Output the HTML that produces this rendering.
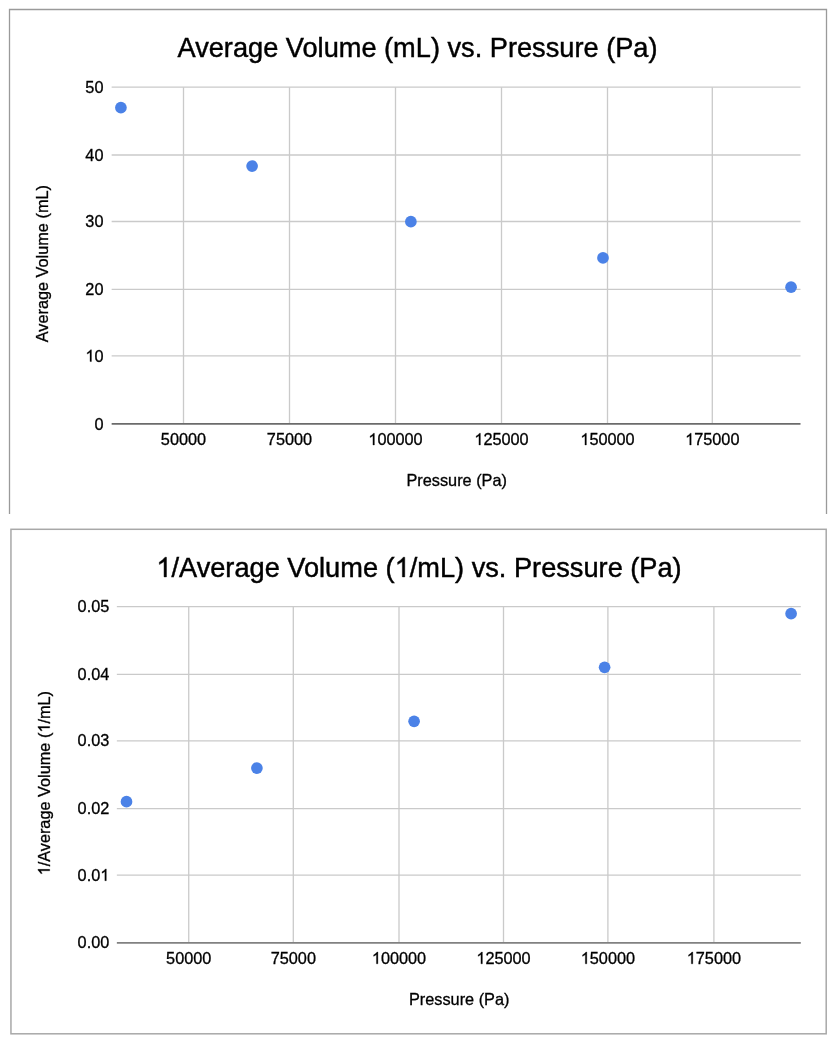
<!DOCTYPE html>
<html><head><meta charset="utf-8"><style>
html,body{margin:0;padding:0;background:#fff;}
svg{display:block;will-change:transform;font-family:"Liberation Sans",sans-serif;}
.l{font-size:16.3px;fill:#000;stroke:#000;stroke-width:0.3px;}
.t{font-size:27.2px;fill:#000;stroke:#000;stroke-width:0.45px;}
.h{fill-opacity:0;stroke-opacity:0;}
</style></head><body>
<svg width="836" height="1040" viewBox="0 0 836 1040">
<rect x="0" y="0" width="836" height="1040" fill="#fff"/>
<path d="M9.5 514 L9.5 9.5 L826.5 9.5 L826.5 514" fill="none" stroke="#9a9a9a" stroke-width="1.3"/>
<line x1="111.65" y1="87.2" x2="800.5" y2="87.2" stroke="#cacaca" stroke-width="1.3"/>
<line x1="111.65" y1="155.0" x2="800.5" y2="155.0" stroke="#cacaca" stroke-width="1.3"/>
<line x1="111.65" y1="221.5" x2="800.5" y2="221.5" stroke="#cacaca" stroke-width="1.3"/>
<line x1="111.65" y1="289.45" x2="800.5" y2="289.45" stroke="#cacaca" stroke-width="1.3"/>
<line x1="111.65" y1="355.86" x2="800.5" y2="355.86" stroke="#cacaca" stroke-width="1.3"/>
<line x1="183.5" y1="87.2" x2="183.5" y2="423.86" stroke="#cacaca" stroke-width="1.3"/>
<line x1="289.5" y1="87.2" x2="289.5" y2="423.86" stroke="#cacaca" stroke-width="1.3"/>
<line x1="395.5" y1="87.2" x2="395.5" y2="423.86" stroke="#cacaca" stroke-width="1.3"/>
<line x1="501.5" y1="87.2" x2="501.5" y2="423.86" stroke="#cacaca" stroke-width="1.3"/>
<line x1="607.5" y1="87.2" x2="607.5" y2="423.86" stroke="#cacaca" stroke-width="1.3"/>
<line x1="712.3" y1="87.2" x2="712.3" y2="423.86" stroke="#cacaca" stroke-width="1.3"/>
<line x1="111.65" y1="423.86" x2="800.5" y2="423.86" stroke="#6b6b6b" stroke-width="1.8"/>
<circle cx="120.9" cy="107.7" r="5.85" fill="#4b82e7"/>
<circle cx="252.1" cy="166.1" r="5.85" fill="#4b82e7"/>
<circle cx="410.87" cy="221.7" r="5.85" fill="#4b82e7"/>
<circle cx="603" cy="257.9" r="5.85" fill="#4b82e7"/>
<circle cx="791.05" cy="287.2" r="5.85" fill="#4b82e7"/>
<rect x="10.95" y="529.3" width="815.25" height="504.50" fill="none" stroke="#a8a8a8" stroke-width="1.5"/>
<line x1="116.85" y1="606.57" x2="800.8" y2="606.57" stroke="#cacaca" stroke-width="1.3"/>
<line x1="116.85" y1="674.4" x2="800.8" y2="674.4" stroke="#cacaca" stroke-width="1.3"/>
<line x1="116.85" y1="740.93" x2="800.8" y2="740.93" stroke="#cacaca" stroke-width="1.3"/>
<line x1="116.85" y1="808.7" x2="800.8" y2="808.7" stroke="#cacaca" stroke-width="1.3"/>
<line x1="116.85" y1="875.2" x2="800.8" y2="875.2" stroke="#cacaca" stroke-width="1.3"/>
<line x1="188.73" y1="606.57" x2="188.73" y2="942.95" stroke="#cacaca" stroke-width="1.3"/>
<line x1="293.3" y1="606.57" x2="293.3" y2="942.95" stroke="#cacaca" stroke-width="1.3"/>
<line x1="399.0" y1="606.57" x2="399.0" y2="942.95" stroke="#cacaca" stroke-width="1.3"/>
<line x1="503.5" y1="606.57" x2="503.5" y2="942.95" stroke="#cacaca" stroke-width="1.3"/>
<line x1="607.9" y1="606.57" x2="607.9" y2="942.95" stroke="#cacaca" stroke-width="1.3"/>
<line x1="713.9" y1="606.57" x2="713.9" y2="942.95" stroke="#cacaca" stroke-width="1.3"/>
<line x1="116.85" y1="942.95" x2="800.8" y2="942.95" stroke="#818181" stroke-width="1.8"/>
<circle cx="126.5" cy="801.7" r="5.85" fill="#4b82e7"/>
<circle cx="256.9" cy="768.1" r="5.85" fill="#4b82e7"/>
<circle cx="414.1" cy="721.3" r="5.85" fill="#4b82e7"/>
<circle cx="604.6" cy="667.3" r="5.85" fill="#4b82e7"/>
<circle cx="791.1" cy="613.7" r="5.85" fill="#4b82e7"/>
<g transform="translate(103.5 92.9) scale(1 1.05)"><text id="t0" x="0" y="0" text-anchor="end" class="l">50</text></g>
<g transform="translate(103.5 160.7) scale(1 1.05)"><text id="t1" x="0" y="0" text-anchor="end" class="l">40</text></g>
<g transform="translate(103.5 227.2) scale(1 1.05)"><text id="t2" x="0" y="0" text-anchor="end" class="l">30</text></g>
<g transform="translate(103.5 295.15) scale(1 1.05)"><text id="t3" x="0" y="0" text-anchor="end" class="l">20</text></g>
<g transform="translate(103.5 361.56) scale(1 1.05)"><text id="t4" x="0" y="0" text-anchor="end" class="l"><tspan class="h">1</tspan>0</text><path d="M-12.06 0.00 L-13.49 0.00 L-13.49 -8.77 C-14.01 -8.30 -15.65 -7.37 -16.30 -7.13 L-16.30 -8.46 C-15.15 -8.98 -13.31 -10.59 -12.95 -11.21 L-12.06 -11.21 Z" fill="#000" stroke="#000" stroke-width="0.3" stroke-linejoin="round"/></g>
<g transform="translate(103.5 429.56) scale(1 1.05)"><text id="t5" x="0" y="0" text-anchor="end" class="l">0</text></g>
<g transform="translate(183.5 445.0) scale(1 1.05)"><text id="t6" x="0" y="0" text-anchor="middle" class="l">50000</text></g>
<g transform="translate(289.5 445.0) scale(1 1.05)"><text id="t7" x="0" y="0" text-anchor="middle" class="l">75000</text></g>
<g transform="translate(395.5 445.0) scale(1 1.05)"><text id="t8" x="0" y="0" text-anchor="middle" class="l"><tspan class="h">1</tspan>00000</text><path d="M-21.11 0.00 L-22.55 0.00 L-22.55 -8.77 C-23.06 -8.30 -24.70 -7.37 -25.36 -7.13 L-25.36 -8.46 C-24.20 -8.98 -22.36 -10.59 -22.00 -11.21 L-21.11 -11.21 Z" fill="#000" stroke="#000" stroke-width="0.3" stroke-linejoin="round"/></g>
<g transform="translate(501.5 445.0) scale(1 1.05)"><text id="t9" x="0" y="0" text-anchor="middle" class="l"><tspan class="h">1</tspan>25000</text><path d="M-21.11 0.00 L-22.55 0.00 L-22.55 -8.77 C-23.06 -8.30 -24.70 -7.37 -25.36 -7.13 L-25.36 -8.46 C-24.20 -8.98 -22.36 -10.59 -22.00 -11.21 L-21.11 -11.21 Z" fill="#000" stroke="#000" stroke-width="0.3" stroke-linejoin="round"/></g>
<g transform="translate(607.5 445.0) scale(1 1.05)"><text id="t10" x="0" y="0" text-anchor="middle" class="l"><tspan class="h">1</tspan>50000</text><path d="M-21.11 0.00 L-22.55 0.00 L-22.55 -8.77 C-23.06 -8.30 -24.70 -7.37 -25.36 -7.13 L-25.36 -8.46 C-24.20 -8.98 -22.36 -10.59 -22.00 -11.21 L-21.11 -11.21 Z" fill="#000" stroke="#000" stroke-width="0.3" stroke-linejoin="round"/></g>
<g transform="translate(712.3 445.0) scale(1 1.05)"><text id="t11" x="0" y="0" text-anchor="middle" class="l"><tspan class="h">1</tspan>75000</text><path d="M-21.11 0.00 L-22.55 0.00 L-22.55 -8.77 C-23.06 -8.30 -24.70 -7.37 -25.36 -7.13 L-25.36 -8.46 C-24.20 -8.98 -22.36 -10.59 -22.00 -11.21 L-21.11 -11.21 Z" fill="#000" stroke="#000" stroke-width="0.3" stroke-linejoin="round"/></g>
<g transform="translate(417.5 57.2) scale(1 1.05)"><text id="t12" x="0" y="0" text-anchor="middle" class="t">Average Volume (mL) vs. Pressure (Pa)</text></g>
<g transform="translate(456.7 485.8) scale(1 1.05)"><text id="t13" x="0" y="0" text-anchor="middle" class="l">Pressure (Pa)</text></g>
<g transform="translate(48.1 263.7) rotate(-90) scale(1 1.05)"><text id="t14" x="0" y="0" text-anchor="middle" class="l">Average Volume (mL)</text></g>
<g transform="translate(109.3 612.07) scale(1 1.05)"><text id="t15" x="0" y="0" text-anchor="end" class="l">0.05</text></g>
<g transform="translate(109.3 679.9) scale(1 1.05)"><text id="t16" x="0" y="0" text-anchor="end" class="l">0.04</text></g>
<g transform="translate(109.3 746.43) scale(1 1.05)"><text id="t17" x="0" y="0" text-anchor="end" class="l">0.03</text></g>
<g transform="translate(109.3 814.2) scale(1 1.05)"><text id="t18" x="0" y="0" text-anchor="end" class="l">0.02</text></g>
<g transform="translate(109.3 880.7) scale(1 1.05)"><text id="t19" x="0" y="0" text-anchor="end" class="l">0.0<tspan class="h">1</tspan></text><path d="M-2.99 0.00 L-4.43 0.00 L-4.43 -8.77 C-4.94 -8.30 -6.58 -7.37 -7.24 -7.13 L-7.24 -8.46 C-6.08 -8.98 -4.24 -10.59 -3.88 -11.21 L-2.99 -11.21 Z" fill="#000" stroke="#000" stroke-width="0.3" stroke-linejoin="round"/></g>
<g transform="translate(109.3 948.45) scale(1 1.05)"><text id="t20" x="0" y="0" text-anchor="end" class="l">0.00</text></g>
<g transform="translate(188.73 963.8) scale(1 1.05)"><text id="t21" x="0" y="0" text-anchor="middle" class="l">50000</text></g>
<g transform="translate(293.3 963.8) scale(1 1.05)"><text id="t22" x="0" y="0" text-anchor="middle" class="l">75000</text></g>
<g transform="translate(399.0 963.8) scale(1 1.05)"><text id="t23" x="0" y="0" text-anchor="middle" class="l"><tspan class="h">1</tspan>00000</text><path d="M-21.11 0.00 L-22.55 0.00 L-22.55 -8.77 C-23.06 -8.30 -24.70 -7.37 -25.36 -7.13 L-25.36 -8.46 C-24.20 -8.98 -22.36 -10.59 -22.00 -11.21 L-21.11 -11.21 Z" fill="#000" stroke="#000" stroke-width="0.3" stroke-linejoin="round"/></g>
<g transform="translate(503.5 963.8) scale(1 1.05)"><text id="t24" x="0" y="0" text-anchor="middle" class="l"><tspan class="h">1</tspan>25000</text><path d="M-21.11 0.00 L-22.55 0.00 L-22.55 -8.77 C-23.06 -8.30 -24.70 -7.37 -25.36 -7.13 L-25.36 -8.46 C-24.20 -8.98 -22.36 -10.59 -22.00 -11.21 L-21.11 -11.21 Z" fill="#000" stroke="#000" stroke-width="0.3" stroke-linejoin="round"/></g>
<g transform="translate(607.9 963.8) scale(1 1.05)"><text id="t25" x="0" y="0" text-anchor="middle" class="l"><tspan class="h">1</tspan>50000</text><path d="M-21.11 0.00 L-22.55 0.00 L-22.55 -8.77 C-23.06 -8.30 -24.70 -7.37 -25.36 -7.13 L-25.36 -8.46 C-24.20 -8.98 -22.36 -10.59 -22.00 -11.21 L-21.11 -11.21 Z" fill="#000" stroke="#000" stroke-width="0.3" stroke-linejoin="round"/></g>
<g transform="translate(713.9 963.8) scale(1 1.05)"><text id="t26" x="0" y="0" text-anchor="middle" class="l"><tspan class="h">1</tspan>75000</text><path d="M-21.11 0.00 L-22.55 0.00 L-22.55 -8.77 C-23.06 -8.30 -24.70 -7.37 -25.36 -7.13 L-25.36 -8.46 C-24.20 -8.98 -22.36 -10.59 -22.00 -11.21 L-21.11 -11.21 Z" fill="#000" stroke="#000" stroke-width="0.3" stroke-linejoin="round"/></g>
<g transform="translate(419.0 576.9) scale(1 1.05)"><text id="t27" x="0" y="0" text-anchor="middle" class="t"><tspan class="h">1</tspan>/Average Volume (<tspan class="h">1</tspan>/mL) vs. Pressure (Pa)</text><path d="M-252.55 0.00 L-254.94 0.00 L-254.94 -14.64 C-255.80 -13.85 -258.54 -12.29 -259.63 -11.90 L-259.63 -14.12 C-257.70 -14.99 -254.63 -17.67 -254.02 -18.71 L-252.55 -18.71 Z" fill="#000" stroke="#000" stroke-width="0.45" stroke-linejoin="round"/><path d="M-14.25 0.00 L-16.64 0.00 L-16.64 -14.64 C-17.50 -13.85 -20.24 -12.29 -21.33 -11.90 L-21.33 -14.12 C-19.40 -14.99 -16.33 -17.67 -15.72 -18.71 L-14.25 -18.71 Z" fill="#000" stroke="#000" stroke-width="0.45" stroke-linejoin="round"/></g>
<g transform="translate(459.2 1005.0) scale(1 1.05)"><text id="t28" x="0" y="0" text-anchor="middle" class="l">Pressure (Pa)</text></g>
<g transform="translate(49.7 783.2) rotate(-90) scale(1 1.05)"><text id="t29" x="0" y="0" text-anchor="middle" class="l"><tspan class="h">1</tspan>/Average Volume (<tspan class="h">1</tspan>/mL)</text><path d="M-86.16 0.00 L-87.59 0.00 L-87.59 -8.77 C-88.11 -8.30 -89.75 -7.37 -90.40 -7.13 L-90.40 -8.46 C-89.24 -8.98 -87.41 -10.59 -87.04 -11.21 L-86.16 -11.21 Z" fill="#000" stroke="#000" stroke-width="0.3" stroke-linejoin="round"/><path d="M56.64 0.00 L55.20 0.00 L55.20 -8.77 C54.69 -8.30 53.05 -7.37 52.39 -7.13 L52.39 -8.46 C53.55 -8.98 55.39 -10.59 55.75 -11.21 L56.64 -11.21 Z" fill="#000" stroke="#000" stroke-width="0.3" stroke-linejoin="round"/></g>
</svg>
</body></html>
